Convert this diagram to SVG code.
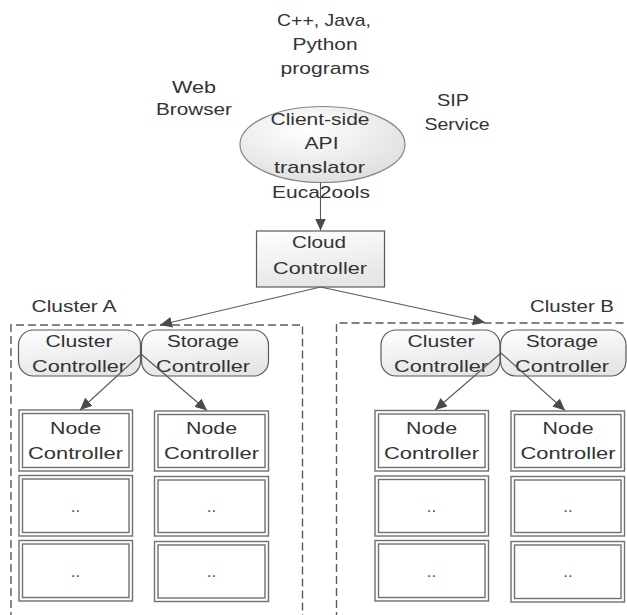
<svg xmlns="http://www.w3.org/2000/svg" width="627" height="615" viewBox="0 0 627 615">
  <defs>
    <radialGradient id="ellFill" cx="0.4" cy="0.3" r="0.75">
      <stop offset="0" stop-color="#ffffff"/>
      <stop offset="1" stop-color="#dedede"/>
    </radialGradient>
    <linearGradient id="boxFill" x1="0" y1="0" x2="0.3" y2="1">
      <stop offset="0" stop-color="#ffffff"/>
      <stop offset="1" stop-color="#e6e6e6"/>
    </linearGradient>
    <marker id="arrow" markerUnits="userSpaceOnUse" markerWidth="14" markerHeight="12" refX="12" refY="5.5" orient="auto">
      <path d="M0,0 L12,5.5 L0,11 Z" fill="#4a4a4a"/>
    </marker>
    <style>
      text { font-family: "Liberation Sans", Arial, sans-serif; font-size: 17px; fill: #333333; text-anchor: middle; }
      .ell { fill: url(#ellFill); stroke: #858585; stroke-width: 1.2; }
      .box { fill: url(#boxFill); stroke: #5a5a5a; stroke-width: 1.2; }
      .pill { fill: url(#boxFill); stroke: #5a5a5a; stroke-width: 1.2; }
      .dbl { fill: #ffffff; stroke: #707070; stroke-width: 1.4; }
      .dbl-in { fill: none; stroke: #707070; stroke-width: 1.4; }
      .cluster { fill: none; stroke: #595959; stroke-width: 1.4; stroke-dasharray: 8 4; }
      .edge { fill: none; stroke: #595959; stroke-width: 1.1; marker-end: url(#arrow); }
      .dots { fill: #555555; }
    </style>
  </defs>

  <!-- free-standing client labels -->
  <g id="clients">
    <text x="324" y="26" textLength="94" lengthAdjust="spacingAndGlyphs">C++, Java,</text>
    <text x="325" y="50" textLength="65" lengthAdjust="spacingAndGlyphs">Python</text>
    <text x="325" y="74" textLength="89" lengthAdjust="spacingAndGlyphs">programs</text>
    <text x="194" y="93" textLength="44" lengthAdjust="spacingAndGlyphs">Web</text>
    <text x="194" y="115" textLength="76" lengthAdjust="spacingAndGlyphs">Browser</text>
    <text x="453" y="106" textLength="32" lengthAdjust="spacingAndGlyphs">SIP</text>
    <text x="457" y="130" textLength="65" lengthAdjust="spacingAndGlyphs">Service</text>
  </g>

  <!-- cluster outlines -->
  <g id="cluster-a">
    <path class="cluster" d="M11,620 V325 H302.5 V620"/>
    <text x="74" y="312" textLength="85" lengthAdjust="spacingAndGlyphs">Cluster A</text>
  </g>
  <g id="cluster-b">
    <path class="cluster" d="M336.5,620 V323 H632"/>
    <text x="572" y="312" textLength="84" lengthAdjust="spacingAndGlyphs">Cluster B</text>
  </g>

  <!-- API translator -->
  <g id="api-translator">
    <ellipse class="ell" cx="322.5" cy="144.5" rx="82.5" ry="38"/>
    <text x="320" y="125" textLength="99" lengthAdjust="spacingAndGlyphs">Client-side</text>
    <text x="321.5" y="149" textLength="34" lengthAdjust="spacingAndGlyphs">API</text>
    <text x="319.5" y="173" textLength="91" lengthAdjust="spacingAndGlyphs">translator</text>
    <text x="321" y="198" textLength="98" lengthAdjust="spacingAndGlyphs">Euca2ools</text>
  </g>

  <!-- cloud controller -->
  <g id="cloud-controller">
    <rect class="box" x="256.5" y="231" width="128" height="56"/>
    <text x="319" y="248" textLength="54" lengthAdjust="spacingAndGlyphs">Cloud</text>
    <text x="320" y="274" textLength="94" lengthAdjust="spacingAndGlyphs">Controller</text>
  </g>

  <!-- cluster A controllers -->
  <g id="cluster-controller-a">
    <rect class="pill" x="18.5" y="330" width="122" height="46" rx="15"/>
    <text x="79" y="347" textLength="67" lengthAdjust="spacingAndGlyphs">Cluster</text>
    <text x="79" y="372" textLength="94" lengthAdjust="spacingAndGlyphs">Controller</text>
  </g>
  <g id="storage-controller-a">
    <rect class="pill" x="141.5" y="330" width="127" height="46" rx="15"/>
    <text x="203" y="347" textLength="72" lengthAdjust="spacingAndGlyphs">Storage</text>
    <text x="203" y="372" textLength="94" lengthAdjust="spacingAndGlyphs">Controller</text>
  </g>

  <!-- cluster B controllers -->
  <g id="cluster-controller-b">
    <rect class="pill" x="381" y="330" width="119" height="46" rx="15"/>
    <text x="441" y="347" textLength="67" lengthAdjust="spacingAndGlyphs">Cluster</text>
    <text x="441" y="372" textLength="94" lengthAdjust="spacingAndGlyphs">Controller</text>
  </g>
  <g id="storage-controller-b">
    <rect class="pill" x="500.5" y="330" width="125.5" height="46" rx="15"/>
    <text x="562" y="347" textLength="72" lengthAdjust="spacingAndGlyphs">Storage</text>
    <text x="562" y="372" textLength="94" lengthAdjust="spacingAndGlyphs">Controller</text>
  </g>

  <!-- node controller stacks, cluster A -->
  <g id="node-a1">
    <rect class="dbl" x="19" y="410" width="113.5" height="61"/>
    <rect class="dbl-in" x="22.5" y="413.5" width="106.5" height="54"/>
    <text x="75.5" y="434" textLength="51" lengthAdjust="spacingAndGlyphs">Node</text>
    <text x="75.5" y="459" textLength="95" lengthAdjust="spacingAndGlyphs">Controller</text>
  </g>
  <g id="node-a1-2">
    <rect class="dbl" x="19" y="475.5" width="113.5" height="60.5"/>
    <rect class="dbl-in" x="22.5" y="479" width="106.5" height="53.5"/>
    <text class="dots" x="75.5" y="512">..</text>
  </g>
  <g id="node-a1-3">
    <rect class="dbl" x="19" y="540.5" width="113.5" height="60.5"/>
    <rect class="dbl-in" x="22.5" y="544" width="106.5" height="53.5"/>
    <text class="dots" x="75.5" y="577">..</text>
  </g>
  <g id="node-a2">
    <rect class="dbl" x="154.5" y="411" width="114" height="60"/>
    <rect class="dbl-in" x="158" y="414.5" width="107" height="53"/>
    <text x="211.5" y="434" textLength="51" lengthAdjust="spacingAndGlyphs">Node</text>
    <text x="211.5" y="459" textLength="95" lengthAdjust="spacingAndGlyphs">Controller</text>
  </g>
  <g id="node-a2-2">
    <rect class="dbl" x="154.5" y="476.5" width="114" height="59.5"/>
    <rect class="dbl-in" x="158" y="480" width="107" height="52.5"/>
    <text class="dots" x="211.5" y="512">..</text>
  </g>
  <g id="node-a2-3">
    <rect class="dbl" x="154.5" y="541.5" width="114" height="60"/>
    <rect class="dbl-in" x="158" y="545" width="107" height="53"/>
    <text class="dots" x="211.5" y="577">..</text>
  </g>

  <!-- node controller stacks, cluster B -->
  <g id="node-b1">
    <rect class="dbl" x="375" y="410.5" width="113.5" height="60.5"/>
    <rect class="dbl-in" x="378.5" y="414" width="106.5" height="53.5"/>
    <text x="431.5" y="434" textLength="51" lengthAdjust="spacingAndGlyphs">Node</text>
    <text x="431.5" y="459" textLength="95" lengthAdjust="spacingAndGlyphs">Controller</text>
  </g>
  <g id="node-b1-2">
    <rect class="dbl" x="375" y="476" width="113.5" height="60"/>
    <rect class="dbl-in" x="378.5" y="479.5" width="106.5" height="53"/>
    <text class="dots" x="431.5" y="512">..</text>
  </g>
  <g id="node-b1-3">
    <rect class="dbl" x="375" y="540.5" width="113.5" height="60.5"/>
    <rect class="dbl-in" x="378.5" y="544" width="106.5" height="53.5"/>
    <text class="dots" x="431.5" y="577">..</text>
  </g>
  <g id="node-b2">
    <rect class="dbl" x="511" y="411" width="113.5" height="60"/>
    <rect class="dbl-in" x="514.5" y="414.5" width="106.5" height="53"/>
    <text x="568" y="434" textLength="51" lengthAdjust="spacingAndGlyphs">Node</text>
    <text x="568" y="459" textLength="95" lengthAdjust="spacingAndGlyphs">Controller</text>
  </g>
  <g id="node-b2-2">
    <rect class="dbl" x="511" y="476.5" width="113.5" height="59.5"/>
    <rect class="dbl-in" x="514.5" y="480" width="106.5" height="52.5"/>
    <text class="dots" x="568" y="512">..</text>
  </g>
  <g id="node-b2-3">
    <rect class="dbl" x="511" y="541.5" width="113.5" height="60.5"/>
    <rect class="dbl-in" x="514.5" y="545" width="106.5" height="53.5"/>
    <text class="dots" x="568" y="577">..</text>
  </g>

  <!-- connectors -->
  <g id="connectors">
    <path class="edge" d="M320.5,182.5 V230.5"/>
    <path class="edge" d="M320.5,287 L160,325"/>
    <path class="edge" d="M320.5,287 L485,322.5"/>
    <path class="edge" d="M141,354 L80,410"/>
    <path class="edge" d="M141,354 L207,410.5"/>
    <path class="edge" d="M501,353 L435,410"/>
    <path class="edge" d="M501,353 L565,410.5"/>
  </g>
</svg>
